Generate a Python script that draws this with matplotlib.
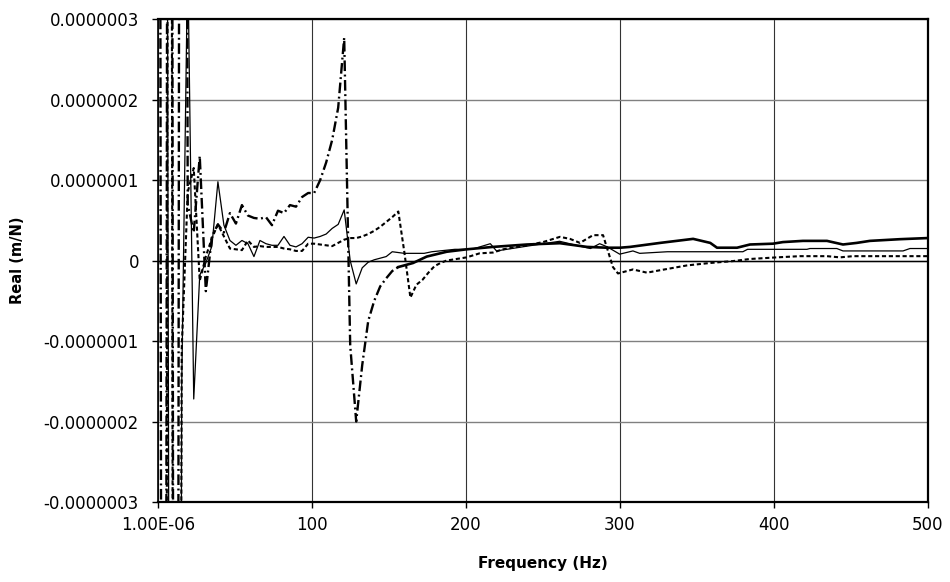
import numpy as np
import matplotlib.pyplot as plt

# readings, real part in 1e-9 m/N
freq_thin = [3.9, 7.8, 11.7, 15.6, 19.5, 23.4, 27.3, 31.25, 35.2, 39.1, 43.0, 46.9, 50.8, 54.7,
             58.6, 62.5, 66.4, 70.3, 74.2, 78.1, 82.0, 85.9, 89.8, 93.75, 97.7, 101.6, 105.5,
             109.4, 113.3, 117.2, 121.1, 125.0, 128.9, 132.8, 136.7, 140.6, 144.5, 148.4, 152.3,
             156.25, 160.2, 173, 178, 193, 204, 216, 220, 240, 261, 274, 281, 287, 292, 300,
             308.6, 313, 331, 358.6, 380, 383, 421.6, 423.5, 441, 445, 484, 488.5, 500]
real_thin = [2500, -900, -3000, -155, 380, -172, -18, -3, 18, 98, 44, 25, 19, 25,
             21, 5, 25, 21, 19, 19, 30, 19, 17, 21, 29, 28, 30,
             33, 40, 45, 63, 0, -29, -9, -2, 1, 3, 5, 11,
             10, 9, 9, 11, 14, 14, 21, 12, 18, 24, 18, 15, 21, 17, 8,
             12, 9, 11, 11, 11, 14, 14, 15, 15, 12, 12, 15, 15]

freq_dot = [3.9, 7.8, 11.7, 15.6, 19.5, 23.4, 27.3, 31.25, 35.2, 39.1, 43.0, 46.9, 50.8, 54.7,
            58.6, 62.5, 66.4, 70.3, 74.2, 78.1, 82.0, 85.9, 89.8, 93.75, 97.7, 101.6, 105.5,
            109.4, 113.3, 117.2, 121.1, 125.0, 128.9, 132.8, 136.7, 140.6, 144.5, 148.4, 152.3,
            156.25, 160.2, 164.1, 168.0, 171.9, 175.8, 179.7, 183.6, 187.5, 200.6, 209, 217.7,
            224.2, 239.8, 250.2, 261.2, 267.7, 274.2, 282.7, 289.2, 295.6, 298.9, 308.6, 317.7,
            326.2, 343.7, 358.6, 373.6, 384.6, 402, 417, 434.6, 443, 451.5, 500]
real_dot = [-3000, 2200, -3000, -110, 85, 115, -25, 5, 28, 45, 30, 15, 14, 13,
            25, 17, 18, 17, 17, 17, 15, 14, 12, 12, 21, 21, 20,
            19, 18, 22, 26, 28, 28, 30, 33, 37, 42, 48, 54,
            61, 10, -46, -30, -24, -15, -7, -3, 0, 4, 9, 10,
            14, 19, 23, 29.5, 27, 22, 31.6, 31.6, -8, -16, -11, -15,
            -12, -6, -3, -0.6, 2, 4, 5.5, 5.5, 4, 5.5, 5.5]

freq_dd = [0, 3.9, 7.8, 11.7, 15.6, 19.5, 23.4, 27.3, 31.25, 35.2, 39.1, 43.0, 46.9, 50.8,
           54.7, 58.6, 62.5, 66.4, 70.3, 74.2, 78.1, 82.0, 85.9, 89.8, 93.75, 97.7, 101.6,
           105.5, 109.4, 113.3, 117.2, 121.1, 125.0, 128.9, 132.8, 136.7, 140.6, 144.5, 148.4,
           152.3, 156.25, 165.8, 174.7, 187.7, 200.6, 217.7, 239.8, 261.2, 278.8, 291.8, 300.2,
           306.7, 326.3, 347.7, 358.8, 363.2, 376.2, 384.6, 399.5, 406, 419, 434.6, 445, 454,
           462.5, 482, 500]
real_dd = [3000, -3000, 3000, -3000, 3000, 70, 35, 130, -38, 30, 45, 35, 59, 46,
           69, 56, 53, 52, 54, 44, 62, 59, 69, 67, 79, 84, 84,
           100, 122, 150, 190, 277, -105, -200, -130, -75, -50, -32, -22,
           -13, -8, -3, 5, 11, 14, 17, 20, 21.6, 17, 16, 16,
           17, 22, 27, 22, 16, 16, 20, 21, 23, 24.5, 24.5, 20, 22,
           24.5, 26.6, 28]

ytick_vals = [-3e-7, -2e-7, -1e-7, 0, 1e-7, 2e-7, 3e-7]
ytick_labels = ['-0.0000003', '-0.0000002', '-0.0000001', '0',
                '0.0000001', '0.0000002', '0.0000003']
xtick_vals = [0, 100, 200, 300, 400, 500]
xtick_labels = ['1.00E-06', '100', '200', '300', '400', '500']

plt.rcParams['font.family'] = 'DejaVu Sans'

fig = plt.figure(figsize=(9.5, 5.82), dpi=100)
ax = fig.add_axes([0.166, 0.1375, 0.8105, 0.8295])

scale = 1e-9
ax.plot(freq_thin, np.array(real_thin) * scale, color='black', lw=0.9, zorder=3)
ax.plot(freq_dot, np.array(real_dot) * scale, color='black', lw=1.5,
        dashes=(2, 1.3), zorder=3)
# the dash-dot series looks solid once the curve flattens out
n = freq_dd.index(156.25) + 1
fd = np.array(freq_dd)
rd = np.array(real_dd) * scale
ax.plot(fd[:n], rd[:n], color='black', lw=1.7, dashes=(4.5, 1.5, 0.8, 1.5), zorder=3)
ax.plot(fd[n - 1:], rd[n - 1:], color='black', lw=1.9, zorder=3)

ax.set_xlim(0, 500)
ax.set_ylim(-3e-7, 3e-7)
ax.set_xticks(xtick_vals)
ax.set_xticklabels(xtick_labels)
ax.set_yticks(ytick_vals)
ax.set_yticklabels(ytick_labels)
ax.tick_params(labelsize=12, length=4, width=1, direction='out')
ax.tick_params(axis='y', pad=9.5)
ax.tick_params(axis='x', pad=6)

ax.yaxis.grid(True, color='#808080', lw=1.0)
ax.xaxis.grid(True, color='#333333', lw=0.8)
ax.axhline(0, color='black', lw=1.0, zorder=2)
ax.set_axisbelow(True)
for side in ['top', 'right', 'bottom']:
    ax.spines[side].set_linewidth(1.6)
ax.spines['left'].set_linewidth(1.2)

ax.set_xlabel('Frequency (Hz)', fontsize=11, fontweight='bold')
ax.set_ylabel('Real (m/N)', fontsize=10.5, fontweight='bold')
ax.xaxis.set_label_coords(0.5, -0.112)
ax.yaxis.set_label_coords(-0.172, 0.5)

fig.savefig('out.png', dpi=100)
